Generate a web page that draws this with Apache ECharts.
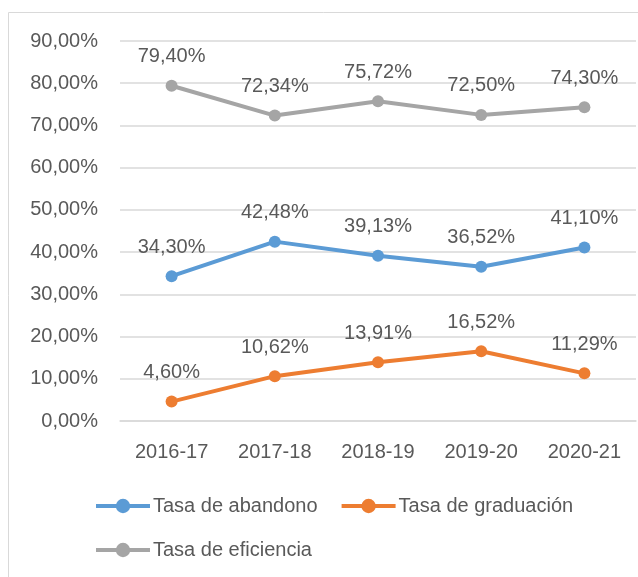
<!DOCTYPE html>
<html lang="es">
<head>
  <meta charset="utf-8">
  <title>Tasas</title>
  <script src="https://cdn.jsdelivr.net/npm/echarts@6/dist/echarts.min.js"></script>
</head>
<body style="margin:0;background:#fff;">
  <div id="container" style="width:638px;height:577px;"></div>
  <script>
    // datos del gráfico
    var cursos = ['2016-17', '2017-18', '2018-19', '2019-20', '2020-21'];
    var abandono = [34.30, 42.48, 39.13, 36.52, 41.10];
    var graduacion = [4.60, 10.62, 13.91, 16.52, 11.29];
    var eficiencia = [79.40, 72.34, 75.72, 72.50, 74.30];

    var textColor = '#595959';
    var fontFamily = 'Liberation Sans, Arial, sans-serif';
    var fontSize = 20;

    function pct(v) {
      return v.toFixed(2).replace('.', ',') + '%';
    }

    function serie(name, data, color) {
      return {
        name: name,
        type: 'line',
        data: data,
        symbol: 'circle',
        symbolSize: 12,
        color: color,
        lineStyle: { width: 4, color: color },
        label: {
          show: true,
          position: 'top',
          distance: 13,
          color: textColor,
          fontSize: fontSize,
          fontFamily: fontFamily,
          formatter: function (p) { return pct(p.value); }
        }
      };
    }

    var myChart = echarts.init(document.getElementById('container'), null, { renderer: 'canvas' });

    var option = {
      animation: false,
      graphic: [{
        type: 'rect',
        shape: { x: 8.5, y: 12.5, width: 700, height: 700 },
        style: { fill: 'none', stroke: '#d9d9d9', lineWidth: 1 }
      }],
      grid: { left: 120, right: 2, top: 41, height: 380 },
      legend: {
        left: 94,
        top: 495,
        width: 520,
        padding: 0,
        itemWidth: 54,
        itemHeight: 18,
        itemGap: 22,
        lineStyle: { width: 4 },
        textStyle: { color: textColor, fontSize: fontSize, fontFamily: fontFamily, lineHeight: 22, padding: [0, 0, 0, -2] },
        data: ['Tasa de abandono', 'Tasa de graduación', 'Tasa de eficiencia']
      },
      xAxis: {
        type: 'category',
        data: cursos,
        axisLine: { lineStyle: { color: '#d9d9d9', width: 1.5 } },
        axisTick: { show: false },
        axisLabel: { color: textColor, fontSize: fontSize, fontFamily: fontFamily, margin: 21 }
      },
      yAxis: {
        type: 'value',
        min: 0,
        max: 90,
        interval: 10,
        axisLine: { show: false },
        axisTick: { show: false },
        splitLine: { lineStyle: { color: '#d9d9d9', width: 1.5 } },
        axisLabel: { color: textColor, fontSize: fontSize, fontFamily: fontFamily, margin: 22, formatter: pct }
      },
      series: [
        serie('Tasa de abandono', abandono, '#5b9bd5'),
        serie('Tasa de graduación', graduacion, '#ed7d31'),
        serie('Tasa de eficiencia', eficiencia, '#a5a5a5')
      ]
    };

    myChart.setOption(option);
    window.addEventListener('resize', myChart.resize);
  </script>
</body>
</html>
